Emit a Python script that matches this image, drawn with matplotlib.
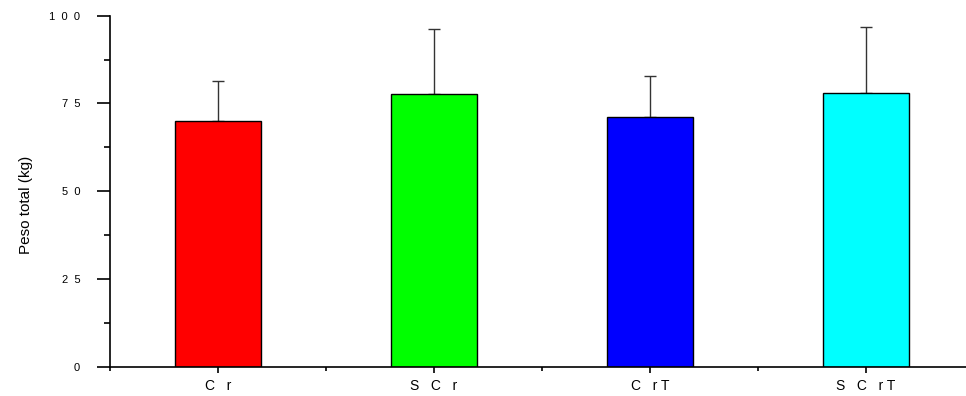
import matplotlib.pyplot as plt
import numpy as np
from matplotlib.ticker import MultipleLocator, FixedLocator

plt.rcParams["font.family"] = ["Liberation Sans", "DejaVu Sans"]

groups = ["C   r", "S   C   r", "C   r T", "S   C   r T"]
peso = [70.1, 77.8, 71.2, 77.9]
sd = [11.3, 18.3, 11.6, 18.8]
colors = ["#FF0000", "#00FF00", "#0000FF", "#00FFFF"]
y_ticks = [0, 25, 50, 75, 100]
y_ticklabels = ["0", "2  5", "5  0", "7  5", "1  0  0"]

fig = plt.figure(figsize=(9.66, 3.96), dpi=100)
# right edge of the axes runs slightly past the figure, as in the original
ax = fig.add_axes([110 / 966, 29.3 / 396, 864 / 966, 351 / 396])

x = np.arange(1, len(groups) + 1)
ax.bar(x, peso, 0.4, color=colors, edgecolor="black", linewidth=1.0, zorder=2)
ax.errorbar(x, peso, yerr=[np.zeros(len(sd)), sd], fmt="none", ecolor="#333333",
            elinewidth=1.0, capsize=4.5, capthick=1.0, zorder=1)

ax.set_xlim(0.5, 4.5)
ax.set_ylim(0, 100)
for s in ("top", "right"):
    ax.spines[s].set_visible(False)
for s in ("left", "bottom"):
    ax.spines[s].set_linewidth(1.2)

ax.yaxis.set_major_locator(FixedLocator(y_ticks))
ax.set_yticklabels(y_ticklabels)
ax.yaxis.set_minor_locator(MultipleLocator(12.5))
ax.tick_params(axis="y", which="major", direction="out", length=9.5, width=1.2,
               pad=12, labelsize=8)
ax.tick_params(axis="y", which="minor", direction="out", length=4.5, width=1.2)

ax.set_xticks(x)
ax.set_xticklabels(groups)
ax.xaxis.set_minor_locator(FixedLocator([0.5, 1.5, 2.5, 3.5, 4.5]))
ax.tick_params(axis="x", which="major", direction="out", length=4.5, width=1.2,
               pad=4, labelsize=10)
ax.tick_params(axis="x", which="minor", direction="out", length=3, width=1.2)

ax.set_ylabel("Peso total (kg)", fontsize=11)
ax.yaxis.set_label_coords(-0.089, 0.46)

fig.savefig("out.png", dpi=100)
